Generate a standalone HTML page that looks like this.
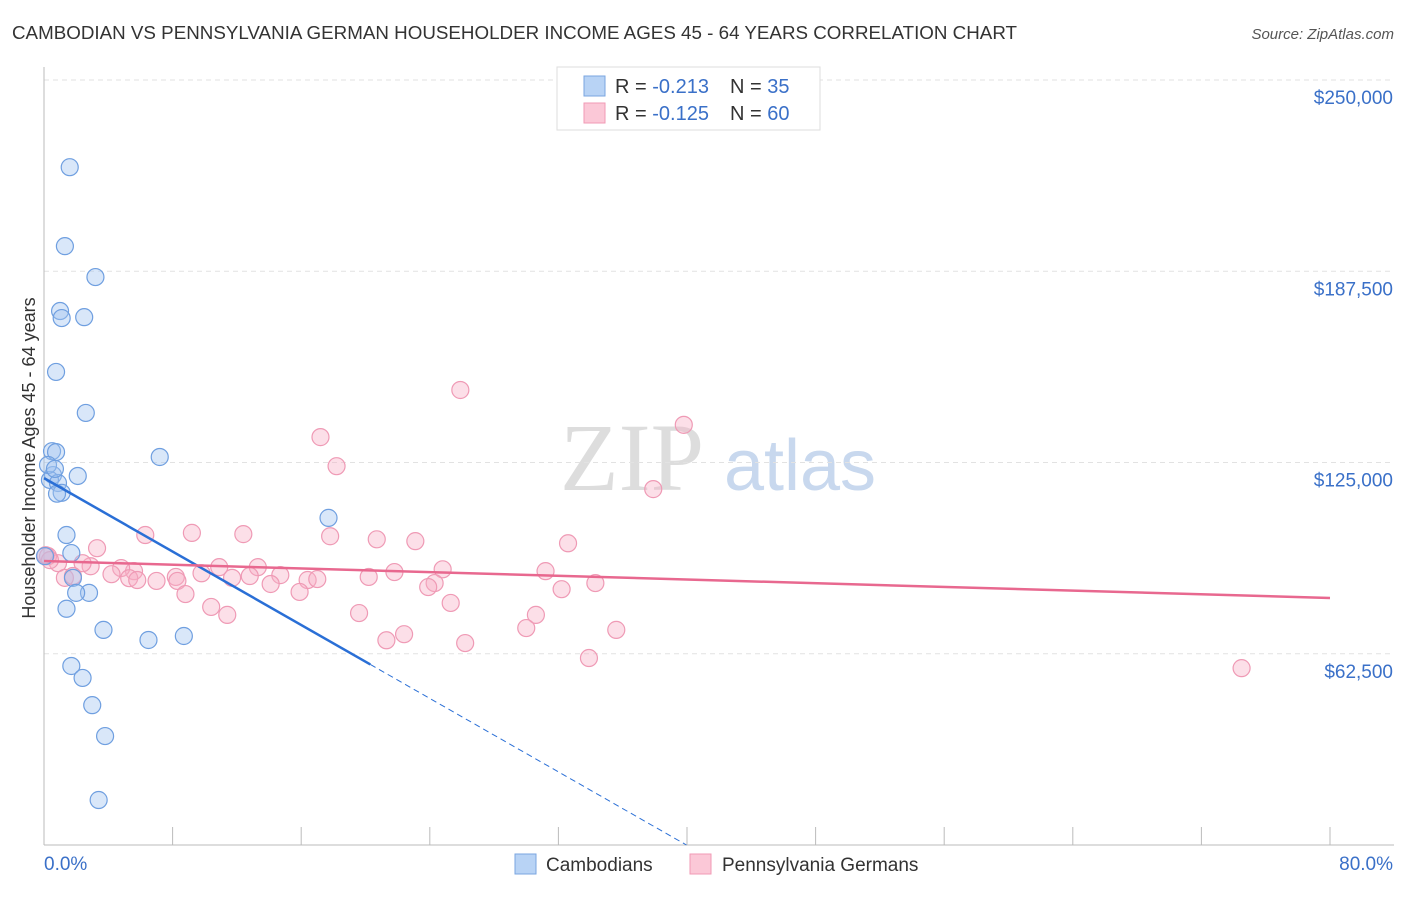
<!DOCTYPE html>
<html><head><meta charset="utf-8"><style>
body{margin:0;background:#fff;font-family:"Liberation Sans",sans-serif;}
svg text{font-family:"Liberation Sans",sans-serif;}
</style></head><body>
<svg id="c" width="1406" height="892">
<text x="12" y="39" font-size="18" fill="#333" textLength="1005" lengthAdjust="spacingAndGlyphs">CAMBODIAN VS PENNSYLVANIA GERMAN HOUSEHOLDER INCOME AGES 45 - 64 YEARS CORRELATION CHART</text>
<text x="1394" y="39" font-size="15" fill="#555" font-style="italic" text-anchor="end">Source: ZipAtlas.com</text>
<text x="35" y="458" font-size="18" fill="#333" text-anchor="middle" transform="rotate(-90 35 458)">Householder Income Ages 45 - 64 years</text>
<g><text x="632" y="490" font-size="96" fill="#ddd" font-family="Liberation Serif" text-anchor="middle" style="font-family:'Liberation Serif',serif">ZIP</text><text x="800" y="490" font-size="72" fill="#c8d8ee" text-anchor="middle">atlas</text></g>
<g id="grid"></g><g id="marks"></g>
<g>
<rect x="557" y="67" width="263" height="63" fill="#fff" stroke="#ddd"/>
<rect x="584" y="76" width="21" height="20" fill="#b8d3f5" stroke="#7aa6e0"/>
<rect x="584" y="103" width="21" height="20" fill="#fbc8d7" stroke="#f09ab4"/>
<text x="615" y="93" font-size="20" fill="#333">R = <tspan fill="#3a70c8">-0.213</tspan><tspan x="730">N = </tspan><tspan fill="#3a70c8">35</tspan></text>
<text x="615" y="120" font-size="20" fill="#333">R = <tspan fill="#3a70c8">-0.125</tspan><tspan x="730">N = </tspan><tspan fill="#3a70c8">60</tspan></text>
</g>
<g>
<rect x="515" y="854" width="21" height="20" fill="#b8d3f5" stroke="#7aa6e0"/>
<text x="546" y="871" font-size="19" fill="#333">Cambodians</text>
<rect x="690" y="854" width="21" height="20" fill="#fbc8d7" stroke="#f09ab4"/>
<text x="722" y="871" font-size="19" fill="#333">Pennsylvania Germans</text>
</g>
</svg>
<script>
const yTicks=[62500,125000,187500,250000];
const yTickLabels=["$62,500","$125,000","$187,500","$250,000"];
const xTicks=[0,8,16,24,32,40,48,56,64,72,80];
const camX=[1.6,1.3,3.2,1.0,1.1,2.5,0.75,2.6,7.2,0.5,0.75,0.56,2.1,0.37,0.87,1.1,0.81,17.7,1.4,1.7,0.06,1.8,2.8,2.0,1.4,3.7,6.5,8.7,1.7,2.4,3.0,3.8,3.4,0.25,0.68];
const camY=[221500,195700,185600,174500,172200,172500,154600,141200,126800,128700,128400,120900,120600,119300,118300,115100,114800,106900,101300,95400,94400,87300,82400,82400,77200,70300,67000,68300,58500,54600,45700,35600,14700,124200,122900];
const paX=[25.9,39.8,17.2,18.2,37.9,6.3,9.2,12.4,17.8,20.7,23.1,32.6,3.3,10.9,13.3,5.6,4.8,14.7,20.2,21.8,8.2,2.9,0.87,2.4,31.2,24.8,9.8,4.2,5.3,5.8,8.3,7.0,11.7,12.8,14.1,16.4,17.0,24.3,23.9,34.3,32.2,8.8,15.9,1.3,1.8,25.3,10.4,11.4,19.6,30.6,30.0,35.6,22.4,21.3,26.2,33.9,74.5,0.25,0.37,0.1];
const paY=[148700,137300,133300,123800,116300,101300,102000,101600,100900,99900,99300,98600,97000,90800,90800,89500,90500,88200,87600,89200,87600,91100,92100,92100,89500,90100,88800,88500,87200,86600,86300,86300,87300,87900,85300,86600,86900,85600,84300,85600,83600,82000,82700,87300,87900,79100,77800,75200,75800,75200,70900,70300,68900,66900,66000,61100,57800,94400,93100,94700];
const camTrend=[119900,-3000];
const paTrend=[92800,-0.151*1000];
const NS="http://www.w3.org/2000/svg";
const X0=44,X1=1330,Y0=845,Y250=80;
const xs=v=>X0+v/80*(X1-X0);
const ys=v=>Y0-v/250000*(Y0-Y250);
function mk(t,a,p){const e=document.createElementNS(NS,t);for(const k in a)e.setAttribute(k,a[k]);p.appendChild(e);return e;}
const g=document.getElementById('grid'),m=document.getElementById('marks');
yTicks.forEach((v,i)=>{
 const l=mk('line',{x1:X0,x2:1394,y1:ys(v),y2:ys(v),stroke:'#e2e2e2','stroke-dasharray':'5,4'},g);
 
 
 const t=mk('text',{x:1393,y:ys(v)+24,'font-size':19,fill:'#3a70c8','text-anchor':'end'},g);
 t.textContent=yTickLabels[i];
 
 
});
mk('line',{x1:X0,x2:X0,y1:67,y2:Y0,stroke:'#bbb'},g);
mk('line',{x1:X0,x2:1394,y1:Y0,y2:Y0,stroke:'#bbb'},g);
xTicks.forEach(v=>{
 const l=mk('line',{x1:xs(v),x2:xs(v),y1:Y0,y2:Y0-18,stroke:'#bbb'},g);
 
 
});
const xl=mk('text',{x:44,y:870,'font-size':19,fill:'#3a70c8'},g);xl.textContent='0.0%';


const xr=mk('text',{x:1393,y:870,'font-size':19,fill:'#3a70c8','text-anchor':'end'},g);xr.textContent='80.0%';


paX.forEach((v,i)=>{
 const c=mk('circle',{cx:xs(v),cy:ys(paY[i]),r:8.5,fill:'rgba(248,175,198,0.4)',stroke:'#ef9ab5','stroke-width':1.2},m);
 
 
});
camX.forEach((v,i)=>{
 const c=mk('circle',{cx:xs(v),cy:ys(camY[i]),r:8.5,fill:'rgba(160,196,240,0.4)',stroke:'#6f9fe0','stroke-width':1.2},m);
 
 
});
const cl=v=>camTrend[0]+camTrend[1]*v;
const xEnd=20.3, xZero=-camTrend[0]/camTrend[1];
const b1=mk('line',{x1:xs(0),y1:ys(cl(0)),x2:xs(xEnd),y2:ys(cl(xEnd)),stroke:'#2a6fd6','stroke-width':2.5},m);


const b2=mk('line',{x1:xs(xEnd),y1:ys(cl(xEnd)),x2:xs(xZero),y2:ys(0),stroke:'#2a6fd6','stroke-width':1,'stroke-dasharray':'6,4'},m);


const pl=v=>paTrend[0]+paTrend[1]*v;
const p1=mk('line',{x1:xs(0),y1:ys(pl(0)),x2:xs(80),y2:ys(pl(80)),stroke:'#e8688f','stroke-width':2.5},m);


</script>
</body></html>
